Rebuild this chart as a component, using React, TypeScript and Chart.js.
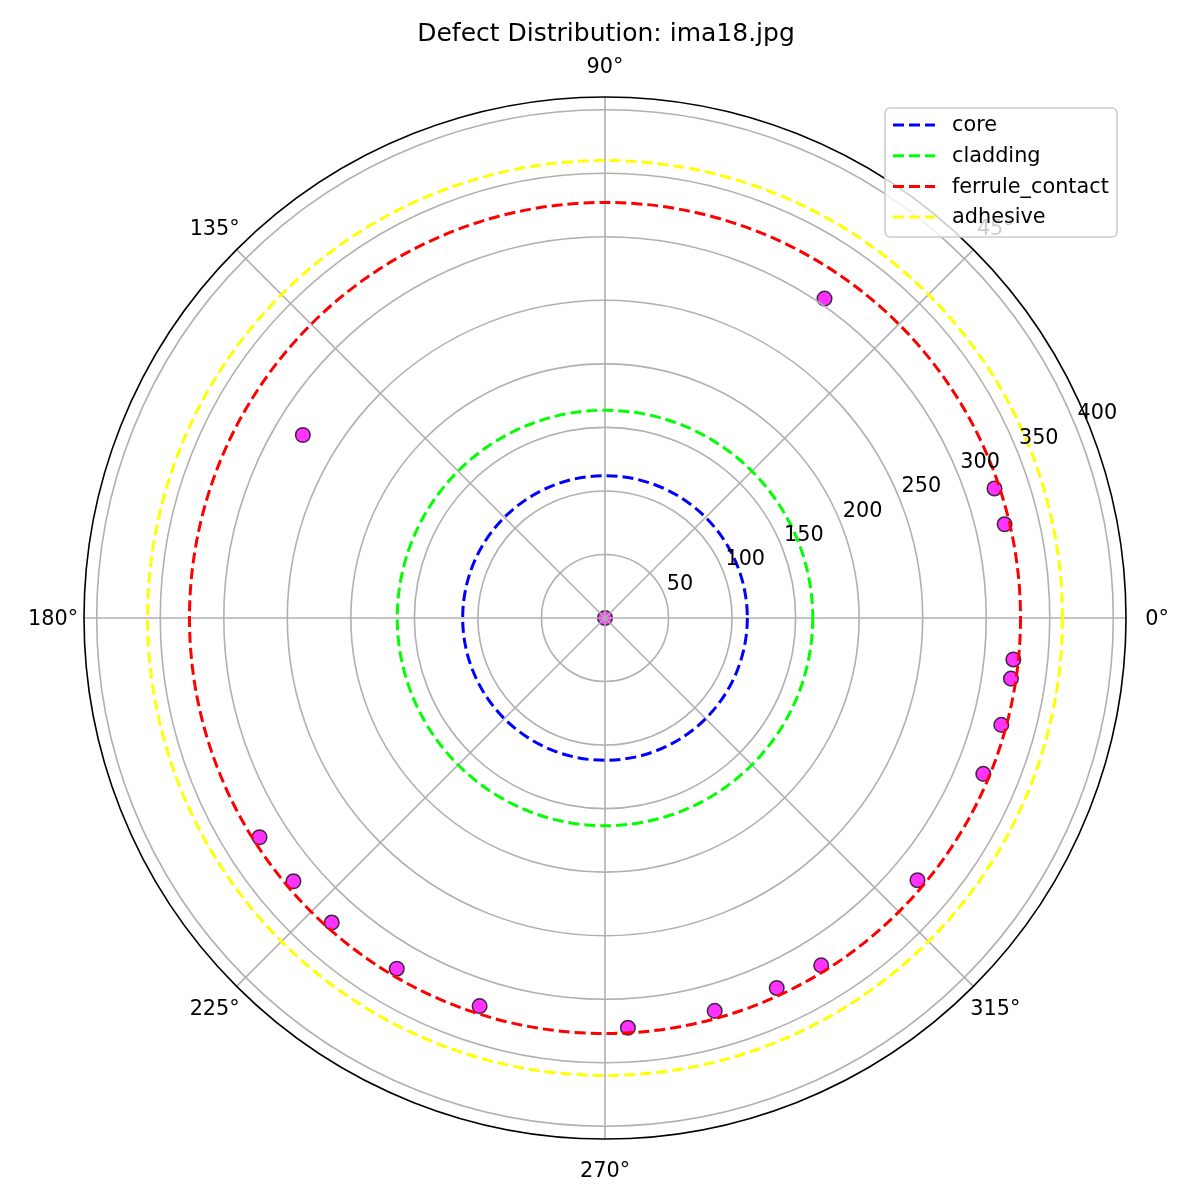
import React, { useEffect, useRef } from "react";
import { Chart, registerables } from "chart.js";

Chart.register(...registerables);

const chartTitle = "Defect Distribution: ima18.jpg";
const defectAngles = [55.5, 148.8, 18.4, 13.2, 354.2, 351.5, 344.9, 337.6, 320, 301.9, 294.9, 285.6, 273.2, 252.1, 239.3, 228.1, 220.2, 212.4, 0];
const defectRadii = [305, 278, 323, 323, 323, 323, 323, 322, 321, 322, 321, 321, 323, 321, 321, 322, 321, 322, 0];
const zoneNames = ["core", "cladding", "ferrule_contact", "adhesive"];
const zoneRadii = [112, 163.5, 327, 360];
const zoneColors = ["#0000ff", "#00ff00", "#ff0000", "#ffff00"];
const radialTicks = [50, 100, 150, 200, 250, 300, 350, 400];
const angleTicks = [0, 45, 90, 135, 180, 225, 270, 315];
const rMax = 410;

const FONT = '"DejaVu Sans", sans-serif';

const polarPlugin = {
  id: "polarDecor",
  afterDatasetsDraw(chart: any) {
    const ctx = chart.ctx as CanvasRenderingContext2D;
    const xs = chart.scales.x;
    const ys = chart.scales.y;
    const cx = xs.getPixelForValue(0);
    const cy = ys.getPixelForValue(0);
    const rad = (v: number) => xs.getPixelForValue(v) - cx;
    const R = rad(rMax);
    ctx.save();
    // grid rings
    ctx.strokeStyle = "#b0b0b0";
    ctx.lineWidth = 1.6;
    ctx.setLineDash([]);
    radialTicks.forEach((t) => {
      ctx.beginPath();
      ctx.arc(cx, cy, rad(t), 0, Math.PI * 2);
      ctx.stroke();
    });
    // angle lines
    angleTicks.forEach((a) => {
      const th = (a * Math.PI) / 180;
      ctx.beginPath();
      ctx.moveTo(cx, cy);
      ctx.lineTo(cx + R * Math.cos(th), cy - R * Math.sin(th));
      ctx.stroke();
    });
    // zone circles
    ctx.lineWidth = 3;
    ctx.setLineDash([11, 5]);
    zoneRadii.forEach((r, i) => {
      ctx.strokeStyle = zoneColors[i];
      ctx.beginPath();
      ctx.arc(cx, cy, rad(r), 0, Math.PI * 2);
      ctx.stroke();
    });
    ctx.setLineDash([]);
    // outer spine
    ctx.strokeStyle = "#000";
    ctx.lineWidth = 1.6;
    ctx.beginPath();
    ctx.arc(cx, cy, R, 0, Math.PI * 2);
    ctx.stroke();
    // radial tick labels
    ctx.fillStyle = "#000";
    ctx.font = `20.8px ${FONT}`;
    ctx.textAlign = "left";
    ctx.textBaseline = "bottom";
    const lth = (22.5 * Math.PI) / 180;
    radialTicks.forEach((t) => {
      const r = rad(t);
      ctx.fillText(String(t), cx + r * Math.cos(lth) + 3, cy - r * Math.sin(lth) + 1);
    });
    // angle labels
    ctx.textAlign = "center";
    ctx.textBaseline = "middle";
    angleTicks.forEach((a) => {
      const th = (a * Math.PI) / 180;
      const r = R + 31;
      ctx.fillText(`${a}°`, cx + r * Math.cos(th), cy - r * Math.sin(th) + 1.5);
    });
    // title
    ctx.font = `25px ${FONT}`;
    ctx.fillText(chartTitle, 606, 34);
    // legend
    const lx = 885, ly = 108, lw = 232, lh = 129;
    ctx.fillStyle = "rgba(255,255,255,0.8)";
    ctx.strokeStyle = "#cccccc";
    ctx.lineWidth = 1.6;
    ctx.beginPath();
    (ctx as any).roundRect(lx, ly, lw, lh, 5);
    ctx.fill();
    ctx.stroke();
    ctx.font = `20.8px ${FONT}`;
    ctx.textAlign = "left";
    ctx.textBaseline = "middle";
    zoneNames.forEach((n, i) => {
      const y = 125 + i * 30.7;
      ctx.strokeStyle = zoneColors[i];
      ctx.lineWidth = 3;
      ctx.setLineDash([11, 5]);
      ctx.beginPath();
      ctx.moveTo(893, y);
      ctx.lineTo(935, y);
      ctx.stroke();
      ctx.setLineDash([]);
      ctx.fillStyle = "#000";
      ctx.fillText(n, 952, y + 1);
    });
    ctx.restore();
  },
};

export default function App() {
  const ref = useRef<HTMLCanvasElement>(null);
  useEffect(() => {
    if (!ref.current) return;
    const pts = defectAngles.map((a, i) => {
      const th = (a * Math.PI) / 180;
      return { x: defectRadii[i] * Math.cos(th), y: defectRadii[i] * Math.sin(th) };
    });
    const chart = new Chart(ref.current, {
      type: "scatter",
      data: {
        datasets: [
          {
            label: "defects",
            data: pts,
            backgroundColor: "rgba(255,0,255,0.8)",
            borderColor: "rgba(0,0,0,0.75)",
            borderWidth: 1.5,
            pointRadius: 7.3,
          },
        ],
      },
      options: {
        animation: false,
        responsive: false,
        devicePixelRatio: 1,
        layout: { padding: { left: 84, right: 74, top: 97, bottom: 61 } },
        scales: {
          x: { type: "linear", min: -rMax, max: rMax, display: false },
          y: { type: "linear", min: -rMax, max: rMax, display: false },
        },
        plugins: { legend: { display: false }, tooltip: { enabled: false } },
      },
      plugins: [polarPlugin],
    });
    return () => chart.destroy();
  }, []);
  return (
    <div style={{ position: "absolute", left: 0, top: 0, width: 1200, height: 1200, background: "#fff" }}>
      <canvas ref={ref} width={1200} height={1200} />
    </div>
  );
}
